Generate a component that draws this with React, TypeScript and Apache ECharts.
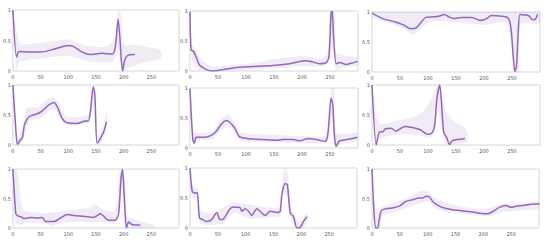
import React, { useEffect, useRef } from "react";
import * as echarts from "echarts";

// ---- data: main (bold) traces, [x, value] ----
const p1Main = [[0,1],[6.6,0.23],[10.8,0.32],[30,0.31],[50,0.31],[75,0.36],[100,0.42],[110,0.4],[125,0.31],[140,0.27],[160,0.29],[180,0.28],[185,0.4],[190,0.85],[193,0.57],[198,0],[202,0.18],[208,0.26],[220,0.27]];
const p2Main = [[0,0.99],[2,0.35],[6.5,0.33],[11,0.23],[17,0.1],[26,0.04],[38,0],[50,0.01],[77,0.05],[100,0.07],[148,0.09],[178,0.12],[205,0.17],[216,0.16],[231,0.12],[243,0.14],[248,0.23],[252,0.96],[254,1],[256,0.63],[261,0.12],[267,0.14],[279,0.11],[288,0.13],[299,0.16]];
const p3Main = [[0,0.98],[19,0.89],[43,0.83],[55,0.79],[69,0.72],[78,0.73],[87,0.82],[96,0.91],[111,0.92],[119,0.93],[130,0.96],[137,0.92],[146,0.89],[160,0.91],[178,0.91],[193,0.86],[205,0.89],[213,0.94],[231,0.93],[243,0.9],[248,0.74],[252,0.29],[255,0.01],[258,0.1],[261,0.65],[264,0.96],[269,0.95],[275,0.95],[281,0.93],[285,0.88],[290,0.87],[296,0.96]];
const p4Main = [[0,1],[5,0.28],[8,0.01],[13,0.08],[17,0.12],[21,0.34],[29,0.47],[44,0.52],[53,0.57],[65,0.67],[74,0.71],[80,0.64],[89,0.44],[98,0.37],[116,0.36],[131,0.4],[136,0.4],[140,0.56],[145,0.97],[148,0.83],[152,0.03],[158,0.11],[164,0.22],[169,0.39]];
const p5Main = [[0,0.99],[5,0.14],[8,0.08],[11,0.18],[26,0.18],[38,0.21],[47,0.28],[56,0.4],[65,0.46],[71,0.43],[80,0.33],[88,0.19],[101,0.16],[130,0.14],[154,0.13],[166,0.14],[184,0.14],[196,0.12],[211,0.16],[226,0.14],[241,0.11],[246,0.22],[252,0.83],[255,0.72],[258,0.19],[261,0.03],[266,0.11],[273,0.13],[285,0.15],[299,0.18]];
const p6Main = [[0,1],[7.6,0],[12,0.19],[15,0.22],[19,0.22],[24,0.27],[34,0.28],[43,0.23],[50,0.27],[58,0.31],[72,0.29],[87,0.25],[96,0.19],[102,0.18],[108,0.21],[112,0.33],[116,0.78],[121,1],[124,0.72],[128,0.22],[134,0.11],[138,0.01],[143,0.07],[152,0.09],[166,0.11]];
const p7Main = [[0,1],[5,0.25],[8,0.21],[14,0.19],[20,0.16],[32,0.18],[44,0.17],[53,0.18],[59,0.11],[74,0.11],[83,0.15],[98,0.23],[110,0.21],[128,0.2],[146,0.18],[152,0.21],[158,0.24],[164,0.2],[173,0.13],[185,0.13],[191,0.25],[195,0.82],[198,0.99],[201,0.54],[205,0],[209,0.1],[215,0.06],[230,0.05]];
const p8Main = [[0,1],[4,0.61],[8.5,0.58],[13,0.59],[17,0.17],[23,0.14],[30,0.11],[39,0.14],[48,0.26],[54,0.14],[60,0.15],[72,0.32],[78,0.35],[90,0.34],[93,0.28],[99,0.32],[105,0.28],[111,0.21],[120,0.32],[129,0.25],[135,0.21],[144,0.28],[156,0.26],[162,0.28],[165,0.56],[171,0.74],[175,0.72],[180,0.25],[186,0.19],[192,0],[198,0.01],[204,0.11],[210,0.19]];
const p9Main = [[0,1],[4,0.2],[7,0],[10,0],[13,0.14],[16,0.28],[22,0.32],[37,0.34],[49,0.37],[61,0.45],[73,0.48],[85,0.51],[91,0.51],[97,0.54],[103,0.53],[109,0.45],[121,0.37],[133,0.33],[145,0.31],[163,0.29],[181,0.27],[193,0.25],[208,0.24],[217,0.28],[229,0.35],[241,0.38],[250,0.35],[259,0.37],[271,0.38],[283,0.4],[301,0.41]];

// ---- data: faint sample cloud (upper / lower envelopes) ----
const p1Top = [[0,1],[8,0.6],[15,0.45],[40,0.45],[80,0.5],[100,0.52],[130,0.42],[170,0.4],[185,0.55],[190,1],[196,0.9],[200,0.45],[230,0.42],[265,0.35],[270,0.2]];
const p1Bottom = [[0,0.95],[6,0],[12,0.15],[50,0.2],[100,0.25],[140,0.15],[180,0.15],[190,0.3],[198,0],[210,0.05],[240,0.15],[270,0.2]];
const p2Top = [[0,1],[3,0.45],[10,0.35],[20,0.2],[40,0.08],[80,0.1],[120,0.14],[150,0.2],[205,0.25],[235,0.2],[246,0.3],[250,1],[258,1],[262,0.3],[300,0.22]];
const p2Bottom = [[0,0.9],[3,0.2],[15,0.02],[30,0],[60,0],[100,0.02],[150,0.04],[200,0.08],[240,0.08],[250,0.2],[256,0.5],[260,0.02],[270,0.05],[300,0.1]];
const p3Top = [[0,1],[300,1]];
const p3Bottom = [[0,0.9],[30,0.82],[60,0.7],[75,0.62],[90,0.75],[110,0.85],[180,0.8],[200,0.78],[240,0.82],[248,0.5],[254,0],[262,0],[266,0.8],[300,0.8]];
const p4Top = [[0,1],[6,0.4],[10,0.15],[18,0.3],[25,0.62],[45,0.62],[60,0.75],[72,0.8],[82,0.72],[92,0.52],[100,0.47],[135,0.5],[140,0.7],[145,1],[149,0.9],[153,0.15],[162,0.3],[170,0.55]];
const p4Bottom = [[0,0.95],[7,0],[15,0.03],[22,0.2],[30,0.4],[50,0.45],[70,0.6],[80,0.55],[90,0.38],[100,0.33],[135,0.36],[142,0.5],[146,0.8],[151,0],[160,0.05],[170,0.3]];
const p5Top = [[0,1],[5,0.3],[10,0.25],[40,0.28],[55,0.48],[68,0.55],[80,0.42],[90,0.26],[150,0.22],[240,0.2],[248,0.4],[252,1],[258,1],[262,0.25],[300,0.25]];
const p5Bottom = [[0,0.9],[6,0.03],[12,0.12],[40,0.15],[55,0.3],[66,0.38],[80,0.26],[90,0.12],[150,0.09],[240,0.08],[248,0.15],[253,0.5],[258,0.05],[262,0],[270,0.07],[300,0.12]];
const p6Top = [[0,1],[8,0.5],[15,0.35],[40,0.4],[70,0.45],[90,0.55],[105,0.75],[115,0.95],[121,1],[130,0.6],[145,0.4],[165,0.3],[170,0.2]];
const p6Bottom = [[0,0.95],[7,0],[12,0.1],[30,0.15],[60,0.18],[90,0.15],[105,0.12],[112,0.25],[118,0.6],[124,0.3],[130,0.05],[138,0],[150,0.02],[170,0.05]];
const p7Top = [[0,1],[8,0.95],[14,0.5],[20,0.3],[60,0.25],[100,0.3],[140,0.35],[150,0.4],[165,0.3],[185,0.3],[192,0.9],[197,1],[203,0.8],[208,0.2],[230,0.12],[255,0.05]];
const p7Bottom = [[0,0.95],[4,0.1],[12,0.05],[20,0.08],[55,0.08],[70,0.03],[90,0.1],[120,0.1],[160,0.1],[185,0.08],[193,0.4],[198,0.7],[203,0],[215,0],[255,0]];
const p8Top = [[0,1],[5,0.7],[14,0.65],[18,0.3],[40,0.25],[75,0.42],[100,0.4],[130,0.35],[160,0.35],[165,0.7],[170,1],[176,0.9],[182,0.35],[195,0.1],[210,0.25]];
const p8Bottom = [[0,0.95],[4,0.5],[13,0.5],[17,0.08],[30,0.05],[60,0.08],[80,0.25],[110,0.15],[140,0.18],[162,0.2],[168,0.55],[176,0.5],[182,0.15],[190,0],[205,0.02],[210,0.12]];
const p9Top = [[0,1],[5,0.4],[12,0.25],[18,0.35],[60,0.5],[85,0.62],[100,0.62],[115,0.5],[150,0.38],[200,0.32],[230,0.4],[270,0.42],[300,0.45]];
const p9Bottom = [[0,0.95],[5,0],[14,0],[18,0.2],[50,0.3],[80,0.4],[100,0.45],[120,0.3],[160,0.24],[210,0.2],[240,0.28],[270,0.3],[300,0.32]];

const xTicks = [0, 50, 100, 150, 200, 250];
const yTicks = [0, 0.5, 1];

const mains = [p1Main, p2Main, p3Main, p4Main, p5Main, p6Main, p7Main, p8Main, p9Main];
const tops = [p1Top, p2Top, p3Top, p4Top, p5Top, p6Top, p7Top, p8Top, p9Top];
const bottoms = [p1Bottom, p2Bottom, p3Bottom, p4Bottom, p5Bottom, p6Bottom, p7Bottom, p8Bottom, p9Bottom];

// layout (px)
const gridRects = [
  { left: 12, top: 10, width: 167, height: 61 },
  { left: 190, top: 11, width: 168, height: 60 },
  { left: 372, top: 12, width: 168, height: 60 },
  { left: 12, top: 85, width: 167, height: 60 },
  { left: 190, top: 88, width: 168, height: 60 },
  { left: 372, top: 85, width: 168, height: 60 },
  { left: 12, top: 169, width: 167, height: 59 },
  { left: 190, top: 168, width: 167, height: 60 },
  { left: 372, top: 169, width: 167, height: 59 },
];

const PURPLE = "#9467bd";

export default function App() {
  const ref = useRef<HTMLDivElement>(null);
  useEffect(() => {
    if (!ref.current) return;
    const chart = echarts.init(ref.current, null, { renderer: "svg" });
    const grid: any[] = [];
    const xAxis: any[] = [];
    const yAxis: any[] = [];
    const series: any[] = [];
    const labelStyle = { fontSize: 5, color: "#555", fontFamily: "DejaVu Sans" };
    gridRects.forEach((r, i) => {
      grid.push({ ...r, show: true, borderColor: "#cccccc", borderWidth: 0.8, backgroundColor: "#fff" });
      xAxis.push({
        type: "value", gridIndex: i, min: 0, max: 300, interval: 50,
        axisLine: { show: false }, axisTick: { show: false }, splitLine: { show: false },
        axisLabel: { ...labelStyle, margin: 3, formatter: (v: number) => (xTicks.includes(v) ? String(v) : "") },
      });
      yAxis.push({
        type: "value", gridIndex: i, min: 0, max: 1, interval: 0.5,
        axisLine: { show: false }, axisTick: { show: false }, splitLine: { show: false },
        axisLabel: { ...labelStyle, margin: 2, formatter: (v: number) => (yTicks.includes(v) ? String(v) : "") },
      });
      const top = tops[i];
      const bottom = bottoms[i];
      series.push({
        type: "custom", xAxisIndex: i, yAxisIndex: i, silent: true, clip: true,
        data: [[0, 0]],
        renderItem: (_p: any, api: any) => {
          const pts = top.map((p) => api.coord(p)).concat(bottom.slice().reverse().map((p) => api.coord(p)));
          return { type: "polygon", shape: { points: pts, smooth: 0.2 }, style: { fill: "rgba(148,103,189,0.13)" } };
        },
      });
      series.push({
        type: "line", xAxisIndex: i, yAxisIndex: i, data: mains[i], showSymbol: false,
        smooth: 0.25, lineStyle: { color: PURPLE, width: 1.5 }, silent: true,
      });
    });
    chart.setOption({ animation: false, backgroundColor: "#fff", grid, xAxis, yAxis, series });
    return () => chart.dispose();
  }, []);
  return <div ref={ref} style={{ position: "fixed", left: 0, top: 0, width: 550, height: 241 }} />;
}
